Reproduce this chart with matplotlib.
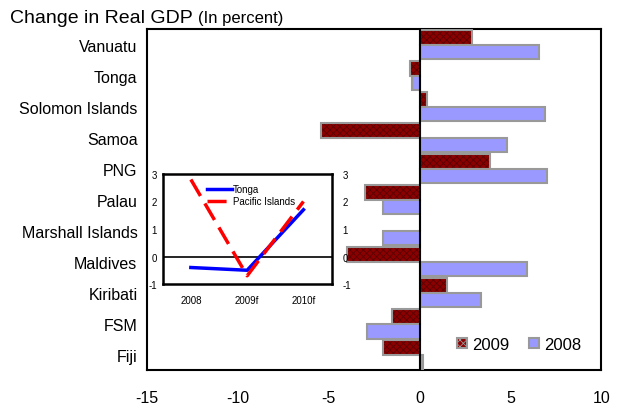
import numpy as np
import matplotlib
matplotlib.use("Agg")
import matplotlib.pyplot as plt
from matplotlib.patches import Patch

plt.rcParams.update({
    "font.family": ["Liberation Sans", "DejaVu Sans"],
    "hatch.linewidth": 0.6,
    "axes.unicode_minus": False,
})

COUNTRIES = ["Vanuatu", "Tonga", "Solomon Islands", "Samoa", "PNG", "Palau",
             "Marshall Islands", "Maldives", "Kiribati", "FSM", "Fiji"]
GDP_2009 = [2.9, -0.5, 0.4, -5.4, 3.9, -3.0, 0.0, -4.0, 1.5, -1.5, -2.0]
GDP_2008 = [6.6, -0.4, 6.9, 4.8, 7.0, -2.0, -2.0, 5.9, 3.4, -2.9, 0.2]
X_TICKS = [-15, -10, -5, 0, 5, 10]

YEARS = ["2008", "2009f", "2010f"]
TONGA = [-0.4, -0.5, 1.7]
PACIFIC = [2.8, -0.7, 2.0]
INSET_TICKS = [-1, 0, 1, 2, 3]

RED = "#8B0000"
BLUE = "#9999FF"
EDGE = "#999999"

fig = plt.figure(figsize=(6.21, 4.06), dpi=100)
ax = fig.add_axes([0.237, 0.085, 0.731, 0.841])

y = np.arange(len(COUNTRIES))
h = 0.47
ax.barh(y - h / 2, GDP_2009, height=h, color=RED, hatch="xxxxx",
        edgecolor="#5a0000", linewidth=0, zorder=2)
ax.barh(y - h / 2, GDP_2009, height=h, fill=False, edgecolor=EDGE,
        linewidth=1.5, zorder=3)
ax.barh(y + h / 2, GDP_2008, height=h, color=BLUE, edgecolor=EDGE,
        linewidth=1.5, zorder=3)
ax.axvline(0, color="black", lw=1.5, zorder=4)

ax.set_xlim(-15, 10)
ax.set_ylim(len(COUNTRIES) - 0.5, -0.5)
ax.set_xticks(X_TICKS)
ax.set_xticklabels([str(v) for v in X_TICKS])
ax.set_yticks(y)
ax.set_yticklabels(COUNTRIES)
ax.tick_params(length=0, labelsize=11.5)
ax.tick_params(axis="x", pad=14)
ax.tick_params(axis="y", pad=7)
for s in ax.spines.values():
    s.set_linewidth(1.5)

ax.legend(handles=[Patch(facecolor=RED, edgecolor=EDGE, hatch="xxxxx", lw=1.5, label="2009"),
                   Patch(facecolor=BLUE, edgecolor=EDGE, lw=1.5, label="2008")],
          loc="lower right", bbox_to_anchor=(0.99, 0.01), ncol=2, frameon=False,
          fontsize=12, handlelength=0.6, handleheight=0.6, handletextpad=0.3,
          columnspacing=1.2)

# inset chart
ins = fig.add_axes([0.262, 0.298, 0.272, 0.271])
xi = np.arange(len(YEARS))
ins.plot(xi, TONGA, color="blue", lw=2.5, label="Tonga", zorder=3)
ins.plot(xi, PACIFIC, color="red", lw=2.5, dashes=(5.5, 2.5), label="Pacific Islands", zorder=3)
ins.axhline(0, color="black", lw=1.2, zorder=2)
ins.set_xlim(-0.5, 2.5)
ins.set_ylim(-1, 3)
ins.set_xticks(xi)
ins.set_xticklabels(YEARS)
ins.set_yticks(INSET_TICKS)
ins.tick_params(length=0, labelsize=7)
ins.tick_params(axis="x", pad=8)
ins.tick_params(axis="y", pad=4)
for s in ins.spines.values():
    s.set_linewidth(1.8)
ins2 = ins.twinx()
ins2.set_ylim(-1, 3)
ins2.set_yticks(INSET_TICKS)
ins2.tick_params(length=0, labelsize=7, pad=8)
for s in ins2.spines.values():
    s.set_visible(False)
ins.legend(loc="upper left", bbox_to_anchor=(0.22, 0.97), frameon=False,
           fontsize=7, handlelength=2.6, handletextpad=0.1, borderpad=0.2,
           labelspacing=0.2)

t1 = fig.text(0.016, 0.955, "Change in Real GDP", fontsize=14, va="center", ha="left")
fig.canvas.draw()
bb = t1.get_window_extent().transformed(fig.transFigure.inverted())
fig.text(bb.x1 + 0.008, 0.955, "(In percent)", fontsize=12, va="center", ha="left")

fig.savefig("out.png", dpi=100)
